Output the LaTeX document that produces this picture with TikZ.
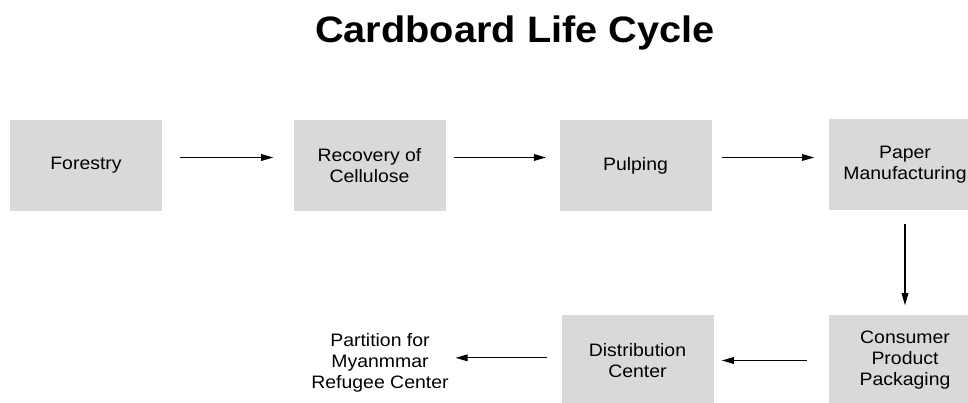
\documentclass[tikz,border=0pt]{standalone}
\usepackage{fontspec}
\setmainfont{Liberation Sans}[FakeStretch=1.08]
\usetikzlibrary{arrows.meta}
\usetikzlibrary{positioning}
\tikzset{
    process box/.style={
        fill=black!15,
        minimum width=114pt,
        minimum height=68.5pt,
        inner sep=0,
        align=center,
        font=\fontsize{13.5}{15.75}\selectfont,
    },
    plain label/.style={
        inner sep=0,
        align=center,
        font=\fontsize{13.5}{15.75}\selectfont,
    },
    flow arrow/.style={
        line width=0.8pt,
        -{Triangle[length=9pt,width=5pt]},
    },
}

\begin{document}
\begin{tikzpicture}[x=0.75pt,y=-0.75pt]

    \clip (0,0) rectangle (968,403);
    \fill[white] (0,0) rectangle (968,403);

    \node[anchor=base,font=\fontsize{27.6}{32}\selectfont\bfseries] (title) at (515,43) {Cardboard Life Cycle};

    % top row
    \node[process box] (forestry) at (86,165.5) {Forestry};
    \node[process box] (recovery) at (369.5,165.5) {Recovery of\\Cellulose};
    \node[process box] (pulping) at (635.5,165.5) {Pulping};
    \node[process box] (paper) at (905,164.5) {Paper\\Manufacturing};

    % bottom row
    \node[process box] (packaging) at (905,360.5) {Consumer\\Product\\Packaging};
    \node[process box] (distribution) at (637.5,360.5) {Distribution\\Center};
    \node[plain label] (partition) at (380,363) {Partition for\\Myanmmar\\Refugee Center};

    \draw[flow arrow, shorten <=13.5pt, shorten >=15pt] ([yshift=6pt]forestry.east) -- ([yshift=6pt]recovery.west);
    \draw[flow arrow, shorten <=6pt, shorten >=10pt] ([yshift=6pt]recovery.east) -- ([yshift=6pt]pulping.west);
    \draw[flow arrow, shorten <=7.5pt, shorten >=11pt] ([yshift=6pt]pulping.east) -- ([yshift=6pt]pulping.east -| paper.west);
    \draw[flow arrow, shorten <=10.5pt, shorten >=7pt] (paper.south) -- (packaging.north);
    \draw[flow arrow, shorten <=16.5pt, shorten >=6pt] (packaging.west) -- (distribution.east);
    \draw[flow arrow, shorten <=10.5pt, shorten >=5pt] ([yshift=2pt]distribution.west) -- ([yshift=2pt]distribution.west -| partition.east);

\end{tikzpicture}
\end{document}
